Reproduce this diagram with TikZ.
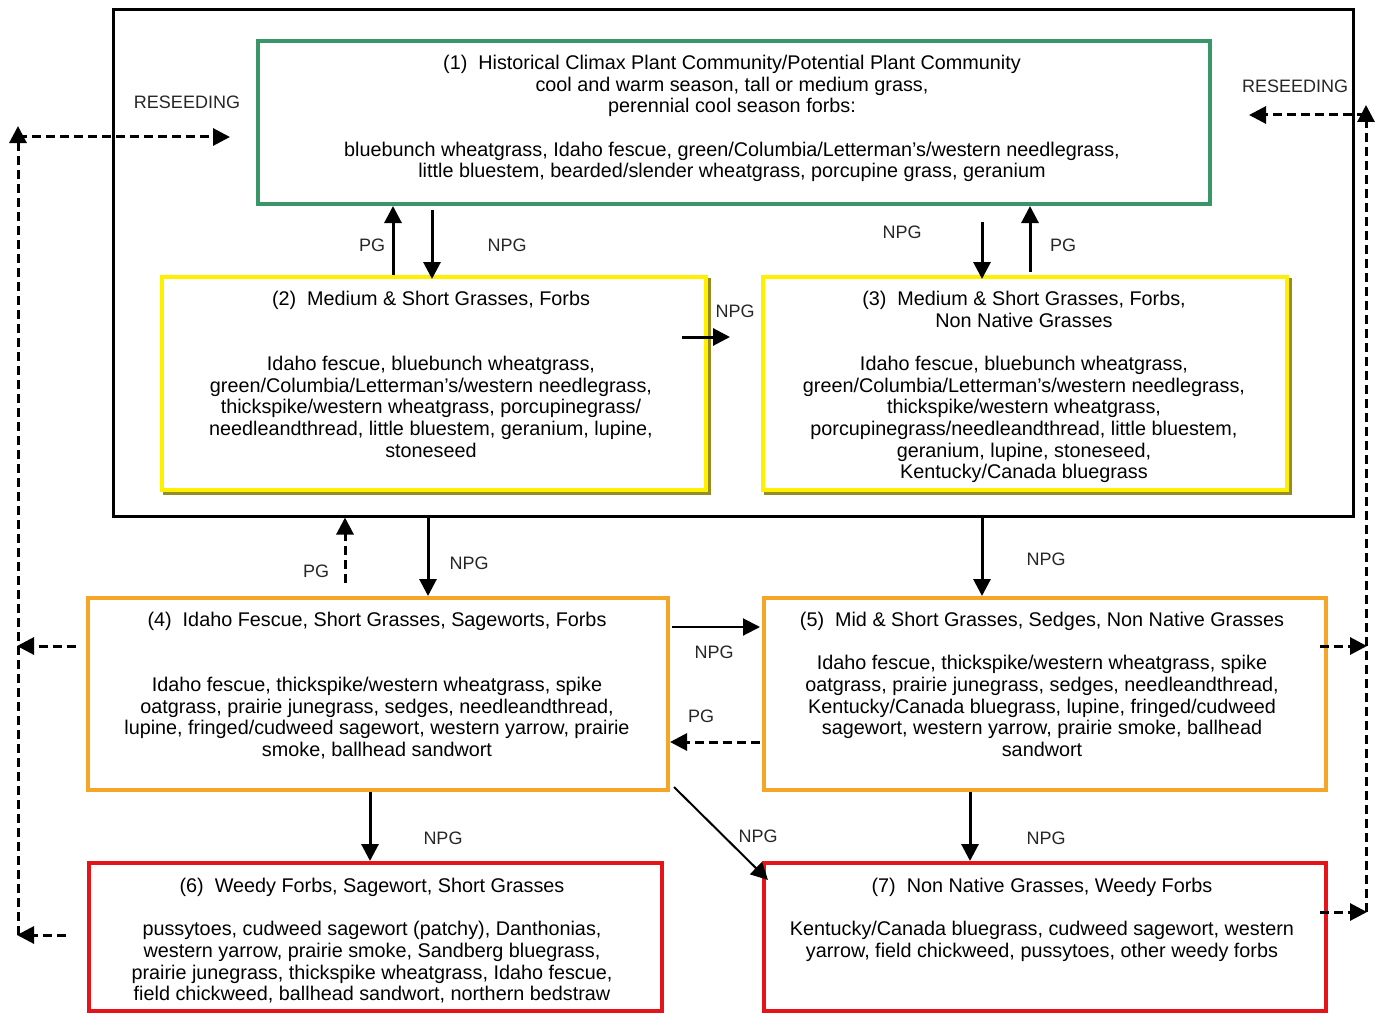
\documentclass[tikz,border=0pt]{standalone}
\usepackage{fontspec}
\setmainfont{Liberation Sans}
\usetikzlibrary{arrows.meta,calc}
\definecolor{cgreen}{RGB}{56,150,104}
\definecolor{cyellow}{RGB}{255,240,0}
\definecolor{cshadow}{RGB}{150,140,40}
\definecolor{corange}{RGB}{245,165,40}
\definecolor{cred}{RGB}{230,20,25}
\begin{document}
\begin{tikzpicture}[x=1pt,y=-1pt,
  boxnode/.style={draw, line width=4pt, fill=white, inner sep=0pt, rectangle},
  boxtext/.style={anchor=north, align=center, inner sep=0pt, font=\fontsize{19.8}{21.7}\selectfont, text=black},
  lbl/.style={font=\fontsize{18}{20}\selectfont, text=black!85, inner sep=0pt},
  arr/.style={line width=3pt, -{Triangle[length=17pt,width=17pt]}},
  darr/.style={line width=3pt, dash pattern=on 9pt off 5pt, -{Triangle[length=17pt,width=17pt]}}]
\useasboundingbox (0,0) rectangle (1386,1014);

% outer frame
\node[draw, line width=3pt, minimum width=1240, minimum height=506, inner sep=0pt] (outer) at (733,263) {};

% boxes
\node[boxnode, draw=cgreen, minimum width=952, minimum height=163] (b1) at (734,122.5) {};
\node[boxnode, draw=cshadow, minimum width=544, minimum height=213] (b2s) at (437,386.5) {};
\node[boxnode, draw=cyellow, minimum width=544, minimum height=213] (b2) at (434,383.5) {};
\node[boxnode, draw=cshadow, minimum width=524, minimum height=213] (b3s) at (1028,386.5) {};
\node[boxnode, draw=cyellow, minimum width=524, minimum height=213] (b3) at (1025,383.5) {};
\node[boxnode, draw=corange, minimum width=580, minimum height=192] (b4) at (378,694) {};
\node[boxnode, draw=corange, minimum width=562, minimum height=192] (b5) at (1045,694) {};
\node[boxnode, draw=cred, minimum width=573, minimum height=148] (b6) at (375.5,937) {};
\node[boxnode, draw=cred, minimum width=562, minimum height=148] (b7) at (1045,937) {};

% texts
\node[boxtext] (t1) at (732,54) {\strut(1)~ Historical Climax Plant Community/Potential Plant Community\\
cool and warm season, tall or medium grass,\\
perennial cool season forbs:\\[21.7pt]
bluebunch wheatgrass, Idaho fescue, green/Columbia/Letterman's/western needlegrass,\\
little bluestem, bearded/slender wheatgrass, porcupine grass, geranium};

\node[boxtext] (t2) at (431,290) {\strut(2)~ Medium \& Short Grasses, Forbs\\[43.4pt]
Idaho fescue, bluebunch wheatgrass,\\
green/Columbia/Letterman's/western needlegrass,\\
thickspike/western wheatgrass, porcupinegrass/\\
needleandthread, little bluestem, geranium, lupine,\\
stoneseed};

\node[boxtext] (t3) at (1024,290) {\strut(3)~ Medium \& Short Grasses, Forbs,\\
Non Native Grasses\\[21.7pt]
Idaho fescue, bluebunch wheatgrass,\\
green/Columbia/Letterman's/western needlegrass,\\
thickspike/western wheatgrass,\\
porcupinegrass/needleandthread, little bluestem,\\
geranium, lupine, stoneseed,\\
Kentucky/Canada bluegrass};

\node[boxtext] (t4) at (377,611) {\strut(4)~ Idaho Fescue, Short Grasses, Sageworts, Forbs\\[43.4pt]
Idaho fescue, thickspike/western wheatgrass, spike\\
oatgrass, prairie junegrass, sedges, needleandthread,\\
lupine, fringed/cudweed sagewort, western yarrow, prairie\\
smoke, ballhead sandwort};

\node[boxtext] (t5) at (1042,611) {\strut(5)~ Mid \& Short Grasses, Sedges, Non Native Grasses\\[21.7pt]
Idaho fescue, thickspike/western wheatgrass, spike\\
oatgrass, prairie junegrass, sedges, needleandthread,\\
Kentucky/Canada bluegrass, lupine, fringed/cudweed\\
sagewort, western yarrow, prairie smoke, ballhead\\
sandwort};

\node[boxtext] (t6) at (372,877) {\strut(6)~ Weedy Forbs, Sagewort, Short Grasses\\[21.7pt]
pussytoes, cudweed sagewort (patchy), Danthonias,\\
western yarrow, prairie smoke, Sandberg bluegrass,\\
prairie junegrass, thickspike wheatgrass, Idaho fescue,\\
field chickweed, ballhead sandwort, northern bedstraw};

\node[boxtext] (t7) at (1042,877) {\strut(7)~ Non Native Grasses, Weedy Forbs\\[21.7pt]
Kentucky/Canada bluegrass, cudweed sagewort, western\\
yarrow, field chickweed, pussytoes, other weedy forbs};

% arrows among boxes
\draw[arr] ($(b2.north)+(-41,0)$) -- ($(b1.south)+(-341,0)$);
\draw[arr] ($(b1.south)+(-302,4)$) -- ($(b2.north)+(-2,4)$);
\draw[arr] ($(b1.south)+(248,16)$) -- ($(b3.north)+(-43,4)$);
\draw[arr] ($(b3.north)+(5,-3)$) -- ($(b1.south)+(296,0)$);
\draw[arr] ($(b2.east)+(-26,-46.5)$) -- ($(b3.west)+(-31,-46.5)$);
\draw[arr] ($(outer.south)+(-305,0)$) -- ($(b4.north)+(50,0)$);
\draw[darr] ($(b4.north)+(-33,-13)$) -- ($(outer.south)+(-388,0)$);
\draw[arr] ($(outer.south)+(249,0)$) -- ($(b5.north)+(-63,0)$);
\draw[arr, line width=2pt] ($(b4.east)+(2,-67)$) -- ($(b5.west)+(-2,-67)$);
\draw[darr] ($(b5.west)+(-2,48)$) -- ($(b4.east)+(0,48)$);
\draw[arr] ($(b4.south)+(-8,0)$) -- ($(b6.north)+(-5.5,0)$);
\draw[arr, line width=2pt] ($(b4.south east)+(4,-5)$) -- ($(b7.north west)+(6,19)$);
\draw[arr] ($(b5.south)+(-75,0)$) -- ($(b7.north)+(-75,0)$);

% reseeding loops
\coordinate (lbot) at (18,935);
\coordinate (ltop) at (18,126);
\coordinate (lcorner) at (18,137);
\coordinate (l4) at (17,646);
\coordinate (l6) at (17,935);
\draw[darr] (lbot) -- (ltop);
\draw[darr] (lcorner) -- ($(b1.west)+(-26,14.5)$);
\draw[darr] ($(b4.west)+(-10,-48)$) -- (l4);
\draw[darr] ($(b6.west)+(-21,-2)$) -- (l6);

\coordinate (rbot) at (1366,912);
\coordinate (rtop) at (1366,105);
\coordinate (rcorner) at (1366,115);
\coordinate (r5) at (1367,646);
\coordinate (r7) at (1367,912);
\draw[darr] (rbot) -- (rtop);
\draw[darr] (rcorner) -- ($(b1.east)+(37,-7.5)$);
\draw[darr] ($(b5.east)+(-8,-48)$) -- (r5);
\draw[darr] ($(b7.east)+(-8,-25)$) -- (r7);

% labels
\node[lbl] (rs1) at (187,102) {RESEEDING};
\node[lbl] (rs2) at (1295,86) {RESEEDING};
\node[lbl] (pg1) at (372,245) {PG};
\node[lbl] (npg1) at (507,245) {NPG};
\node[lbl] (npg2) at (902,232) {NPG};
\node[lbl] (pg2) at (1063,245) {PG};
\node[lbl] (npg3) at (735,311) {NPG};
\node[lbl] (pg3) at (316,571) {PG};
\node[lbl] (npg4) at (469,563) {NPG};
\node[lbl] (npg5) at (1046,559) {NPG};
\node[lbl] (npg6) at (714,652) {NPG};
\node[lbl] (pg4) at (701,716) {PG};
\node[lbl] (npg7) at (443,838) {NPG};
\node[lbl] (npg8) at (758,836) {NPG};
\node[lbl] (npg9) at (1046,838) {NPG};
\end{tikzpicture}
\end{document}
